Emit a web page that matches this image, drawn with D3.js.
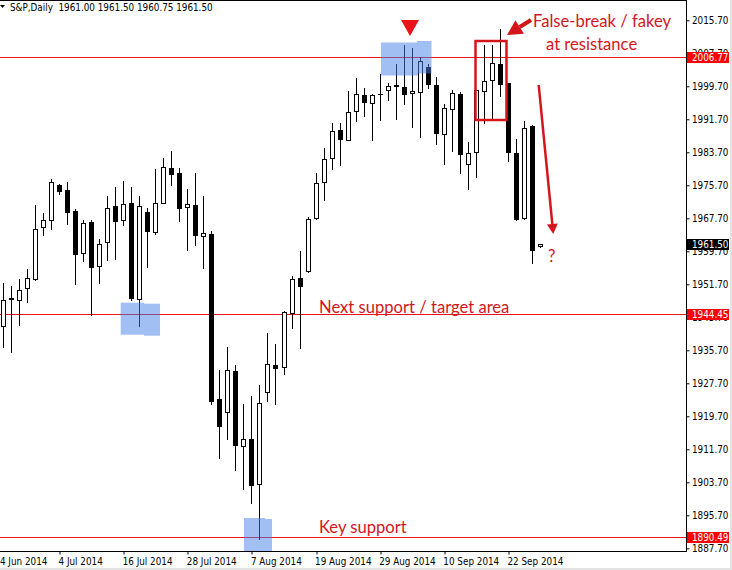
<!DOCTYPE html>
<html>
<head>
<meta charset="utf-8">
<script src="https://cdn.jsdelivr.net/npm/d3@7"></script>
<style>
  body { margin: 0; background: #fff; }
  .axisTxt { font-family: 'Liberation Sans Narrow', 'DejaVu Sans Condensed', sans-serif; font-size: 9.8px; fill: #000; }
  .note { font-family: Lato, 'Open Sans', sans-serif; font-size: 16.6px; fill: #d4161c; }
</style>
</head>
<body>
<div id="chart"></div>
<script>
// S&P Daily candles, 25 Jun 2014 .. 26 Sep 2014
const dates = [
  "2014-06-25","2014-06-26","2014-06-27","2014-06-30","2014-07-01","2014-07-02","2014-07-03","2014-07-04",
  "2014-07-07","2014-07-08","2014-07-09","2014-07-10","2014-07-11","2014-07-14","2014-07-15","2014-07-16",
  "2014-07-17","2014-07-18","2014-07-21","2014-07-22","2014-07-23","2014-07-24","2014-07-25","2014-07-28",
  "2014-07-29","2014-07-30","2014-07-31","2014-08-01","2014-08-04","2014-08-05","2014-08-06","2014-08-07",
  "2014-08-08","2014-08-11","2014-08-12","2014-08-13","2014-08-14","2014-08-15","2014-08-18","2014-08-19",
  "2014-08-20","2014-08-21","2014-08-22","2014-08-25","2014-08-26","2014-08-27","2014-08-28","2014-08-29",
  "2014-09-01","2014-09-02","2014-09-03","2014-09-04","2014-09-05","2014-09-08","2014-09-09","2014-09-10",
  "2014-09-11","2014-09-12","2014-09-15","2014-09-16","2014-09-17","2014-09-18","2014-09-19","2014-09-22",
  "2014-09-23","2014-09-24","2014-09-25","2014-09-26"
];
const opens = [
  1941.6,1948.2,1948.0,1950.9,1952.9,1965.5,1967.3,1975.8,
  1974.6,1969.5,1959.3,1966.8,1956.2,1962.0,1970.6,1967.3,
  1971.5,1948.2,1969.3,1964.4,1971.5,1980.0,1978.8,1970.5,
  1971.0,1963.4,1964.0,1923.8,1920.7,1930.8,1912.5,1914.1,
  1903.2,1925.6,1932.2,1931.7,1944.8,1953.3,1955.0,1967.8,
  1976.5,1982.4,1989.0,1986.7,1993.8,1997.6,1995.7,1997.8,
  1998.8,1999.8,1999.6,1998.0,1998.4,2004.5,2000.1,1988.2,
  1994.2,1997.9,1980.9,1983.8,1998.5,2001.3,2005.2,2000.4,
  1983.6,1967.8,1990.0,1961.00
];
const highs = [
  1952.1,1951.4,1952.9,1955.5,1970.9,1968.9,1977.2,1976.0,
  1976.4,1970.0,1967.2,1967.2,1962.7,1973.0,1975.2,1976.8,
  1975.2,1973.1,1970.3,1979.6,1982.4,1984.1,1979.8,1974.7,
  1978.6,1973.2,1964.7,1931.0,1936.4,1932.2,1922.6,1924.7,
  1927.2,1940.0,1937.3,1945.3,1953.8,1959.8,1967.9,1978.8,
  1984.8,1990.9,1990.7,1998.6,2001.6,1999.4,1997.8,2002.7,
  2000.4,2005.2,2009.8,2008.9,2006.8,2005.2,2002.0,1995.3,
  1998.7,1998.4,1986.3,1998.9,2009.8,2009.8,2013.5,2000.4,
  1987.0,1991.3,1990.4,1961.50
];
const lows = [
  1936.6,1935.4,1941.8,1947.3,1952.7,1963.6,1965.1,1973.5,
  1966.3,1951.7,1957.3,1944.2,1952.0,1957.7,1957.8,1966.1,
  1947.9,1941.6,1955.8,1964.0,1971.3,1975.7,1967.0,1960.0,
  1961.3,1955.6,1922.8,1909.5,1914.1,1906.6,1902.0,1898.8,
  1890.0,1923.4,1922.6,1929.9,1941.1,1936.2,1954.8,1967.6,
  1972.1,1979.6,1980.6,1986.7,1991.2,1992.5,1986.7,1991.5,
  1996.3,1991.7,1995.4,1989.8,1987.5,1999.4,1985.6,1980.8,
  1984.1,1978.6,1974.7,1977.6,1990.9,1992.0,1997.4,1981.5,
  1967.2,1967.5,1956.8,1960.75
];
const closes = [
  1948.0,1948.3,1950.4,1953.3,1965.2,1967.2,1976.5,1974.4,
  1969.3,1959.0,1966.6,1955.9,1961.5,1970.2,1967.0,1971.2,
  1948.3,1970.6,1964.6,1971.5,1980.2,1978.4,1970.1,1971.2,
  1963.6,1964.2,1923.4,1917.3,1931.0,1912.7,1914.3,1903.0,
  1923.0,1932.4,1931.4,1945.0,1952.9,1951.3,1967.6,1976.3,
  1982.1,1988.9,1986.9,1993.5,1997.9,1995.8,1997.7,1997.9,
  1999.8,1999.9,1997.8,1998.6,2005.9,2000.2,1988.3,1994.5,
  1998.1,1983.2,1983.6,1998.9,2001.0,2005.4,2000.2,1983.8,
  1967.5,1989.7,1960.0,1961.50
];

// axis ticks
const xTickIndex = [-1, 7, 15, 23, 31, 39, 47, 55, 63];
const xTickLabels = ["24 Jun 2014", "4 Jul 2014", "16 Jul 2014", "28 Jul 2014", "7 Aug 2014",
  "19 Aug 2014", "29 Aug 2014", "10 Sep 2014", "22 Sep 2014"];
const yTicks = [2015.70, 2007.70, 1999.70, 1991.70, 1983.70, 1975.70, 1967.70, 1959.70, 1951.70,
  1943.70, 1935.70, 1927.70, 1919.70, 1911.70, 1903.70, 1895.70, 1887.70];

// horizontal levels
const levels = [2006.77, 1944.45, 1890.49];
const lastPrice = 1961.50;
const header = "S&P,Daily  1961.00 1961.50 1960.75 1961.50";

const W = 732, H = 570;
const plotRight = 686, plotBottom = 551;
const red = "#e8141a";

var svg = d3.select("#chart").append("svg")
    .attr("width", W)
    .attr("height", H);

svg.append("rect").attr("width", W).attr("height", H).attr("fill", "#fff");

var x = d3.scaleLinear()
    .domain([7, 63])
    .range([59, 508]);
var y = d3.scaleLinear()
    .domain([1887.70, 2015.70])
    .range([548.3, 20.3]);

var candles = dates.map((d, i) => ({ i: i, date: d, o: opens[i], h: highs[i], l: lows[i], c: closes[i] }));

// horizontal lines
svg.selectAll(".level").data(levels).enter()
    .append("line")
    .attr("x1", 0).attr("x2", plotRight)
    .attr("y1", d => Math.round(y(d)) + 0.5)
    .attr("y2", d => Math.round(y(d)) + 0.5)
    .attr("stroke", red)
    .attr("stroke-width", 1);

// candles
var cg = svg.append("g").attr("class", "candles");
candles.forEach(d => {
    var cx = Math.round(x(d.i));
    var yo = Math.round(y(d.o)), yc = Math.round(y(d.c));
    cg.append("line")
        .attr("x1", cx + 0.5).attr("x2", cx + 0.5)
        .attr("y1", Math.round(y(d.h))).attr("y2", Math.round(y(d.l)) + 1)
        .attr("stroke", "#000");
    var top = Math.min(yo, yc), bot = Math.max(yo, yc);
    if (bot - top < 1) {
        cg.append("line")
            .attr("x1", cx - 2).attr("x2", cx + 3)
            .attr("y1", top + 0.5).attr("y2", top + 0.5)
            .attr("stroke", "#000");
    } else if (d.c >= d.o) {
        cg.append("rect")
            .attr("x", cx - 1.5).attr("width", 4)
            .attr("y", top + 0.5).attr("height", bot - top)
            .attr("fill", "#fff").attr("stroke", "#000");
    } else {
        cg.append("rect")
            .attr("x", cx - 2).attr("width", 5)
            .attr("y", top).attr("height", bot - top + 1)
            .attr("fill", "#000");
    }
});

// blue highlight zones (drawn over the candles)
var zones = [
    [[381, 42.5, 37, 33], [417, 41, 14.5, 32.5]],
    [[120.7, 302.7, 23.5, 32], [144, 303.7, 16, 32]],
    [[244, 518, 21, 33], [264, 519, 8, 32]]
];
zones.forEach(z => {
    var g = svg.append("g").attr("opacity", 0.5);
    z.forEach(r => {
        g.append("rect")
            .attr("x", r[0]).attr("y", r[1])
            .attr("width", r[2]).attr("height", r[3])
            .attr("fill", "rgb(72,128,234)");
    });
});

// frame
svg.append("line").attr("x1", 0).attr("x2", plotRight + 1).attr("y1", 0.5).attr("y2", 0.5).attr("stroke", "#000");

// x axis
var xAxis = svg.append("g")
    .attr("transform", "translate(0," + (plotBottom + 0.5) + ")")
    .call(d3.axisBottom(x)
        .tickValues(xTickIndex)
        .tickFormat((d, i) => xTickLabels[i])
        .tickSize(3)
        .tickSizeOuter(0));
xAxis.select(".domain").attr("d", "M0,0H" + (plotRight + 1)).attr("stroke", "#000");
xAxis.selectAll(".tick line").attr("transform", d => "translate(" + (Math.round(x(d)) - x(d) + 0.5) + ",0)");
xAxis.selectAll(".tick text")
    .attr("class", "axisTxt")
    .attr("text-anchor", "start")
    .attr("x", -1)
    .attr("y", 13)
    .attr("dy", 0)
    .attr("font-family", null).attr("font-size", null);

// y axis
var yAxis = svg.append("g")
    .attr("transform", "translate(" + (plotRight + 0.5) + ",0)")
    .call(d3.axisRight(y)
        .tickValues(yTicks)
        .tickFormat(d => d.toFixed(2))
        .tickSize(3)
        .tickSizeOuter(0));
yAxis.select(".domain").attr("d", "M0,0V" + (plotBottom + 1)).attr("stroke", "#000");
yAxis.selectAll(".tick text")
    .attr("class", "axisTxt")
    .attr("x", 5.5)
    .attr("dy", "0.35em")
    .attr("font-family", null).attr("font-size", null);

// price boxes on the scale
var boxes = levels.map(v => ({ v: v, fill: "#ff0000" })).concat([{ v: lastPrice, fill: "#000" }]);
boxes.forEach(b => {
    var cy = y(b.v);
    svg.append("rect")
        .attr("x", 687).attr("y", Math.round(cy) - 5)
        .attr("width", 42).attr("height", 11)
        .attr("fill", b.fill);
    svg.append("text")
        .attr("class", "axisTxt")
        .attr("x", 692).attr("y", Math.round(cy) + 0.5)
        .attr("dy", "0.35em")
        .style("fill", "#fff")
        .text(b.v.toFixed(2));
});

// window edge
svg.append("rect").attr("x", 730).attr("y", 0).attr("width", 2).attr("height", H).attr("fill", "#e3e3e3");
svg.append("rect").attr("x", 0).attr("y", 568).attr("width", W).attr("height", 2).attr("fill", "#e3e3e3");

// header
svg.append("path").attr("d", "M0,5H5L2.5,8Z").attr("fill", "#000");
svg.append("text")
    .attr("class", "axisTxt")
    .attr("x", 10).attr("y", 11)
    .attr("xml:space", "preserve")
    .style("white-space", "pre")
    .text(header);

// annotations
var ann = svg.append("g").attr("class", "annotations");

// top marker triangle
ann.append("path")
    .attr("d", "M401,20H419L410,36Z")
    .attr("fill", red);

// fakey box
ann.append("rect")
    .attr("x", 475.5).attr("y", 41)
    .attr("width", 31).attr("height", 79)
    .attr("fill", "none")
    .attr("stroke", "#d4161c")
    .attr("stroke-width", 2.5);

function arrow(x1, y1, x2, y2, headLen, headW, lineW) {
    var dx = x2 - x1, dy = y2 - y1, len = Math.sqrt(dx * dx + dy * dy);
    var ux = dx / len, uy = dy / len;
    var bx = x2 - ux * headLen, by = y2 - uy * headLen;
    ann.append("line")
        .attr("x1", x1).attr("y1", y1).attr("x2", bx).attr("y2", by)
        .attr("stroke", "#d4161c").attr("stroke-width", lineW);
    ann.append("path")
        .attr("d", "M" + x2 + "," + y2 +
            "L" + (bx - uy * headW) + "," + (by + ux * headW) +
            "L" + (bx + uy * headW) + "," + (by - ux * headW) + "Z")
        .attr("fill", "#d4161c");
}
arrow(531, 20, 507, 35, 15, 8, 4);
arrow(538.7, 85, 553.3, 234, 10, 5.5, 2.5);

ann.append("text").attr("class", "note").attr("x", 533).attr("y", 27).text("False-break / fakey");
ann.append("text").attr("class", "note").attr("x", 546).attr("y", 50).text("at resistance");
ann.append("text").attr("class", "note").attr("x", 319).attr("y", 313).text("Next support / target area");
ann.append("text").attr("class", "note").attr("x", 319).attr("y", 533).text("Key support");
ann.append("text").attr("class", "note").attr("x", 548).attr("y", 262).text("?");
</script>
</body>
</html>
